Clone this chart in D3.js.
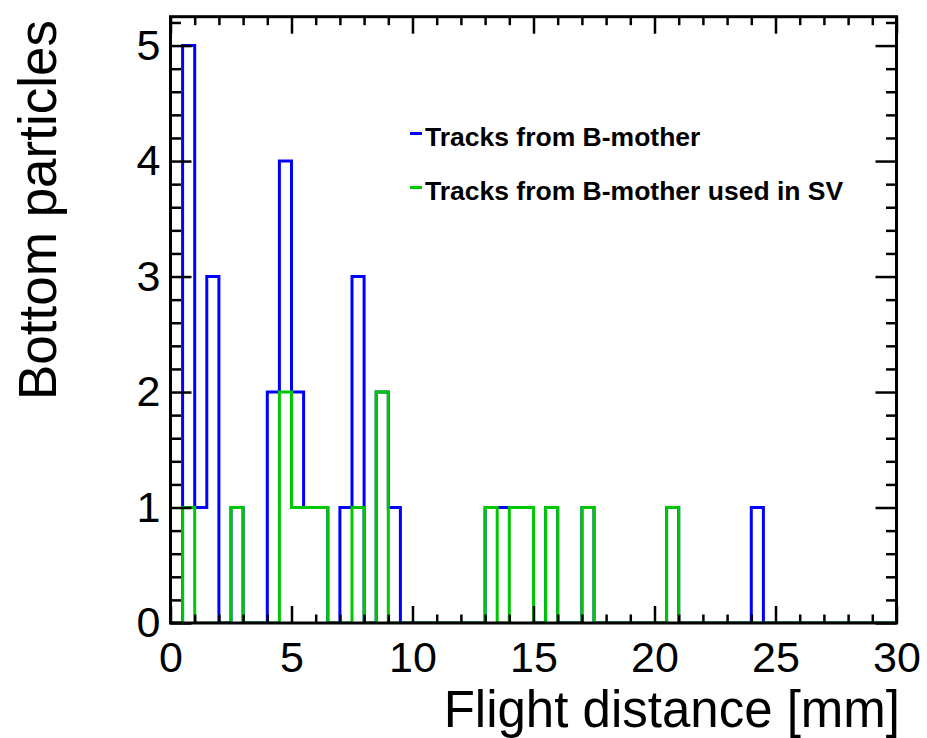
<!DOCTYPE html>
<html>
<head>
<meta charset="utf-8">
<script src="https://cdn.jsdelivr.net/npm/d3@7"></script>
<style>
  html, body { margin: 0; padding: 0; background: #fff; }
  svg { display: block; }
  text { font-family: "Liberation Sans", Arial, Helvetica, sans-serif; }
</style>
</head>
<body>
<svg id="chart" width="927" height="738"></svg>
<script>
// ---- data ----
const binWidth = 0.5;
const xDomain = [0, 30];
const yDomain = [0, 5.25];
// counts per 0.5 mm bin, starting at 0 mm (60 bins)
const tracksFromBMother = [
  0,5,1,3,0,1,0,0,2,4, 2,1,1,0,1,3,0,2,1,0,
  0,0,0,0,0,0,1,1,1,1, 0,1,0,0,1,0,0,0,0,0,
  0,1,0,0,0,0,0,0,1,0, 0,0,0,0,0,0,0,0,0,0
];
const tracksUsedInSV = [
  0,1,0,0,0,1,0,0,0,2, 1,1,1,0,0,1,0,2,0,0,
  0,0,0,0,0,0,1,0,1,1, 0,1,0,0,1,0,0,0,0,0,
  0,1,0,0,0,0,0,0,0,0, 0,0,0,0,0,0,0,0,0,0
];
const xMajorTicks = [0, 5, 10, 15, 20, 25, 30];
const yMajorTicks = [0, 1, 2, 3, 4, 5];
const seriesNames = ["Tracks from B-mother", "Tracks from B-mother used in SV"];
const seriesColors = ["#0000ff", "#00c800"];
const xTitle = "Flight distance [mm]";
const yTitle = "Bottom particles";

// ---- layout ----
const svg = d3.select("#chart");
const L = 170.5, R = 896.5, T = 16.7, B = 623;
const x = d3.scaleLinear().domain(xDomain).range([L, R]);
const y = d3.scaleLinear().domain(yDomain).range([B, T]);

const xMinor = d3.range(0, 31, 1).filter(v => v % 5 !== 0);
const yMinor = d3.range(0, 5.25, 0.2).map(v => +v.toFixed(2)).filter(v => Math.abs(v - Math.round(v)) > 1e-6);

svg.append("defs").append("clipPath").attr("id", "clip")
  .append("rect").attr("x", L).attr("y", T).attr("width", R - L).attr("height", B - T);

// histograms
function stepPath(counts) {
  const pts = [[x(0), y(0)]];
  counts.forEach((c, i) => {
    const x0 = x(i * binWidth), x1 = x((i + 1) * binWidth);
    pts.push([x0, y(c)]);
    pts.push([x1, y(c)]);
  });
  pts.push([x(counts.length * binWidth), y(0)]);
  return d3.line()(pts);
}
const hg = svg.append("g").attr("clip-path", "url(#clip)");
[tracksFromBMother, tracksUsedInSV].forEach((counts, k) => {
  hg.append("path").attr("d", stepPath(counts))
    .attr("fill", "none").attr("stroke", seriesColors[k])
    .attr("stroke-width", 3).attr("stroke-linejoin", "miter");
});

// axes
function styleAxis(g) {
  g.select(".domain").remove();
  g.selectAll("line").attr("stroke", "#000").attr("stroke-width", 2.5);
  g.selectAll("text").attr("fill", "#000").attr("font-size", 43);
}
const fmt = d3.format("d");
svg.append("g").attr("transform", `translate(0,${B})`)
  .call(d3.axisBottom(x).tickValues(xMajorTicks).tickSizeInner(-17).tickSizeOuter(0).tickPadding(18).tickFormat(fmt))
  .call(styleAxis);
svg.append("g").attr("transform", `translate(0,${B})`)
  .call(d3.axisBottom(x).tickValues(xMinor).tickSizeInner(-8.5).tickSizeOuter(0).tickFormat(""))
  .call(styleAxis);
svg.append("g").attr("transform", `translate(0,${T})`)
  .call(d3.axisTop(x).tickValues(xMajorTicks).tickSizeInner(-17).tickSizeOuter(0).tickFormat(""))
  .call(styleAxis);
svg.append("g").attr("transform", `translate(0,${T})`)
  .call(d3.axisTop(x).tickValues(xMinor).tickSizeInner(-8.5).tickSizeOuter(0).tickFormat(""))
  .call(styleAxis);
svg.append("g").attr("transform", `translate(${L},0)`)
  .call(d3.axisLeft(y).tickValues(yMajorTicks).tickSizeInner(-21).tickSizeOuter(0).tickPadding(10).tickFormat(fmt))
  .call(styleAxis);
svg.append("g").attr("transform", `translate(${L},0)`)
  .call(d3.axisLeft(y).tickValues(yMinor).tickSizeInner(-10.5).tickSizeOuter(0).tickFormat(""))
  .call(styleAxis);
svg.append("g").attr("transform", `translate(${R},0)`)
  .call(d3.axisRight(y).tickValues(yMajorTicks).tickSizeInner(-21).tickSizeOuter(0).tickFormat(""))
  .call(styleAxis);
svg.append("g").attr("transform", `translate(${R},0)`)
  .call(d3.axisRight(y).tickValues(yMinor).tickSizeInner(-10.5).tickSizeOuter(0).tickFormat(""))
  .call(styleAxis);

// frame
svg.append("rect").attr("x", L).attr("y", T).attr("width", R - L).attr("height", B - T)
  .attr("fill", "none").attr("stroke", "#000").attr("stroke-width", 3);

// titles
svg.append("text").attr("x", 900).attr("y", 726.5).attr("text-anchor", "end")
  .attr("font-size", 51).attr("fill", "#000").text(xTitle);
svg.append("text").attr("transform", "translate(56,20) rotate(-90)").attr("text-anchor", "end")
  .attr("font-size", 53).attr("fill", "#000").text(yTitle);

// legend
const legendY = [146, 200];
seriesNames.forEach((name, k) => {
  svg.append("line").attr("x1", 410).attr("x2", 422)
    .attr("y1", legendY[k] - 12.5).attr("y2", legendY[k] - 12.5)
    .attr("stroke", seriesColors[k]).attr("stroke-width", 3);
  svg.append("text").attr("x", 425).attr("y", legendY[k])
    .attr("font-size", 26.5).attr("font-weight", "bold").attr("fill", "#000").text(name);
});
</script>
</body>
</html>
